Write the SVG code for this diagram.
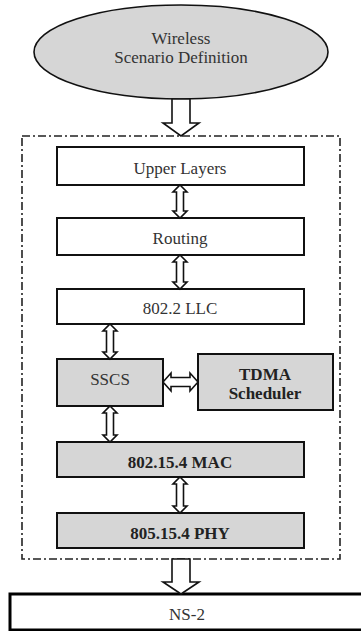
<svg xmlns="http://www.w3.org/2000/svg" width="361" height="631" viewBox="0 0 361 631">
<style>
.t{font-family:"Liberation Serif","Times New Roman",serif;font-size:17px;fill:#333;text-anchor:middle;dominant-baseline:central}
.b{font-weight:bold;fill:#222}
.box{fill:#fff;stroke:#111;stroke-width:2}
.g{fill:#d6d6d6;stroke:#111;stroke-width:2}
.arr{fill:#fff;stroke:#111;stroke-width:1.6;stroke-linejoin:miter}
</style>
<rect width="361" height="631" fill="#fff"/>
<g id="container">
<rect x="22" y="136" width="318" height="423" fill="none" stroke="#222" stroke-width="1.6" stroke-dasharray="8 3 2 3"/>
</g>
<g id="scenario">
<ellipse cx="181" cy="52" rx="147" ry="47" fill="#d6d6d6" stroke="#111" stroke-width="1.6"/>
<text class="t" x="181" y="38">Wireless</text>
<text class="t" x="181" y="57">Scenario Definition</text>
</g>
<g id="upper">
<rect class="box" x="57" y="147" width="247" height="38"/>
<text class="t" x="180" y="168">Upper Layers</text>
</g>
<g id="routing">
<rect class="box" x="57" y="218" width="247" height="37"/>
<text class="t" x="180" y="238">Routing</text>
</g>
<g id="llc">
<rect class="box" x="57" y="289" width="247" height="35"/>
<text class="t" x="180" y="308">802.2 LLC</text>
</g>
<g id="sscs">
<rect class="g" x="57" y="359" width="106" height="47"/>
<text class="t" x="110" y="379">SSCS</text>
</g>
<g id="tdma">
<rect class="g" x="198" y="354" width="135" height="56"/>
<text class="t b" x="265" y="374">TDMA</text>
<text class="t b" x="265" y="393">Scheduler</text>
</g>
<g id="mac">
<rect class="g" x="57" y="442" width="247" height="35"/>
<text class="t b" x="180" y="462">802.15.4 MAC</text>
</g>
<g id="phy">
<rect class="g" x="57" y="513" width="247" height="35"/>
<text class="t b" x="180" y="533">805.15.4 PHY</text>
</g>
<g id="ns2">
<rect x="10" y="594" width="360" height="36" fill="#fff" stroke="#000" stroke-width="3"/>
<text class="t" x="187" y="614">NS-2</text>
</g>
<g id="connectors">
<path class="arr" d="M172,99 L190,99 L190,123 L199,123 L181,136 L163,123 L172,123 Z"/>
<path class="arr" d="M172,559 L190,559 L190,582 L199,582 L181,594 L163,582 L172,582 Z"/>
<path class="arr" d="M180,185 L187,192 L183.5,192 L183.5,211 L187,211 L180,218 L173,211 L176.5,211 L176.5,192 L173,192 Z"/>
<path class="arr" d="M180,255 L187,262 L183.5,262 L183.5,282 L187,282 L180,289 L173,282 L176.5,282 L176.5,262 L173,262 Z"/>
<path class="arr" d="M110,324 L117,331 L113.5,331 L113.5,352 L117,352 L110,359 L103,352 L106.5,352 L106.5,331 L103,331 Z"/>
<path class="arr" d="M110,406 L117,413 L113.5,413 L113.5,435 L117,435 L110,442 L103,435 L106.5,435 L106.5,413 L103,413 Z"/>
<path class="arr" d="M180,477 L187,484 L183.5,484 L183.5,506 L187,506 L180,513 L173,506 L176.5,506 L176.5,484 L173,484 Z"/>
<path class="arr" d="M163,382 L171,373 L171,377.5 L190,377.5 L190,373 L198,382 L190,391 L190,386.5 L171,386.5 L171,391 Z"/>
</g>
</svg>
